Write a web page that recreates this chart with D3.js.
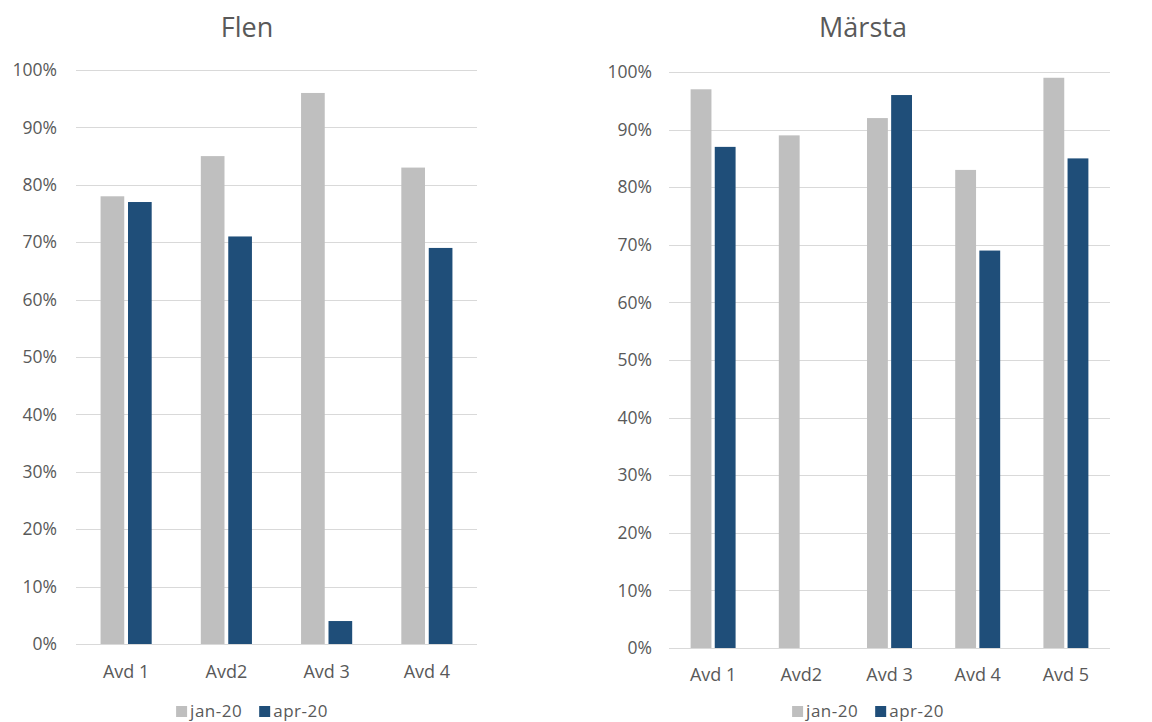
<!DOCTYPE html>
<html>
<head>
<meta charset="utf-8">
<script src="https://cdn.jsdelivr.net/npm/d3@7/dist/d3.min.js"></script>
<style>
  html, body { margin: 0; padding: 0; background: #fff; }
  svg { display: block; font-family: "Open Sans", "Noto Sans", sans-serif; }
</style>
</head>
<body>
<svg id="chart" width="1152" height="722"></svg>
<script>
// Occupancy per department, January and April 2020
const seriesNames = ["jan-20", "apr-20"];
const seriesColors = ["#bfbfbf", "#1f4e79"];

const flenCategories = ["Avd 1", "Avd2", "Avd 3", "Avd 4"];
const flenJan = [0.78, 0.85, 0.96, 0.83];
const flenApr = [0.77, 0.71, 0.04, 0.69];

const marstaCategories = ["Avd 1", "Avd2", "Avd 3", "Avd 4", "Avd 5"];
const marstaJan = [0.97, 0.89, 0.92, 0.83, 0.99];
const marstaApr = [0.87, null, 0.96, 0.69, 0.85];

const yTicks = [0, 0.1, 0.2, 0.3, 0.4, 0.5, 0.6, 0.7, 0.8, 0.9, 1.0];

const svg = d3.select("#chart");
const textColor = "#595959";
const gridColor = "#d9d9d9";

function drawPanel(opts) {
  const { title, categories, jan, apr, left, right, top, bottom, centerX, titleY,
          xLabelY, legendY, tickGap } = opts;
  const g = svg.append("g");

  const x = d3.scaleBand().domain(categories).range([left, right]).padding(0);
  const bw = x.bandwidth();
  const xs = d3.scaleBand().domain(seriesNames)
    .range([-0.255 * bw, 0.255 * bw]).paddingInner(0.137);
  const y = d3.scaleLinear().domain([0, 1]).range([bottom, top]);

  // gridlines
  g.append("g").selectAll("line").data(yTicks).join("line")
    .attr("x1", left).attr("x2", right)
    .attr("y1", d => Math.round(y(d)) + 0.5).attr("y2", d => Math.round(y(d)) + 0.5)
    .attr("stroke", gridColor).attr("stroke-width", 1.2);

  // y axis labels
  const yAxis = d3.axisLeft(y).tickValues(yTicks).tickFormat(d3.format(".0%"))
    .tickSize(0).tickPadding(tickGap);
  const ya = g.append("g").attr("transform", `translate(${left},0)`).call(yAxis);
  ya.select(".domain").remove();
  ya.selectAll("text").attr("fill", textColor).style("font-size", "17.5px")
    .style("font-family", "'Open Sans', sans-serif");

  // bars
  const rows = categories.map((c, i) => ({ cat: c, vals: [jan[i], apr[i]] }));
  const grp = g.append("g").selectAll("g").data(rows).join("g")
    .attr("transform", d => `translate(${x(d.cat) + bw / 2},0)`);
  grp.selectAll("rect")
    .data(d => d.vals.map((v, k) => ({ v, s: seriesNames[k], c: seriesColors[k] }))
      .filter(e => e.v != null))
    .join("rect")
    .attr("x", e => xs(e.s))
    .attr("width", xs.bandwidth())
    .attr("y", e => y(e.v))
    .attr("height", e => y(0) - y(e.v))
    .attr("fill", e => e.c);

  // x axis labels
  const xAxis = d3.axisBottom(x).tickSize(0).tickPadding(0);
  const xa = g.append("g").attr("transform", `translate(0,${xLabelY})`).call(xAxis);
  xa.select(".domain").remove();
  xa.selectAll("text").attr("fill", textColor).attr("dy", "0")
    .style("font-size", "18px").style("font-family", "'Open Sans', sans-serif");

  // title
  g.append("text").attr("x", centerX).attr("y", titleY)
    .attr("text-anchor", "middle").attr("fill", textColor)
    .style("font-size", "27px").text(title);

  // legend
  const lg = g.append("g");
  const items = lg.selectAll("g").data(seriesNames).join("g");
  items.append("rect").attr("width", 11).attr("height", 11)
    .attr("y", legendY - 11).attr("fill", (d, i) => seriesColors[i]);
  items.append("text").attr("x", 14).attr("y", legendY)
    .attr("fill", textColor).style("font-size", "17px")
    .style("letter-spacing", "0.5px").text(d => d);
  let cx = 0;
  items.each(function () {
    d3.select(this).attr("transform", `translate(${cx},0)`);
    cx += this.getBBox().width + 17;
  });
  const total = cx - 17;
  lg.attr("transform", `translate(${centerX + 5 - total / 2},0)`);
}

drawPanel({
  title: "Flen", categories: flenCategories, jan: flenJan, apr: flenApr,
  left: 76, right: 477, top: 70, bottom: 644, centerX: 247, titleY: 37,
  xLabelY: 678, legendY: 717, tickGap: 19
});

drawPanel({
  title: "Märsta", categories: marstaCategories, jan: marstaJan, apr: marstaApr,
  left: 669, right: 1110, top: 72, bottom: 648, centerX: 863, titleY: 37,
  xLabelY: 681, legendY: 717, tickGap: 17
});
</script>
</body>
</html>
